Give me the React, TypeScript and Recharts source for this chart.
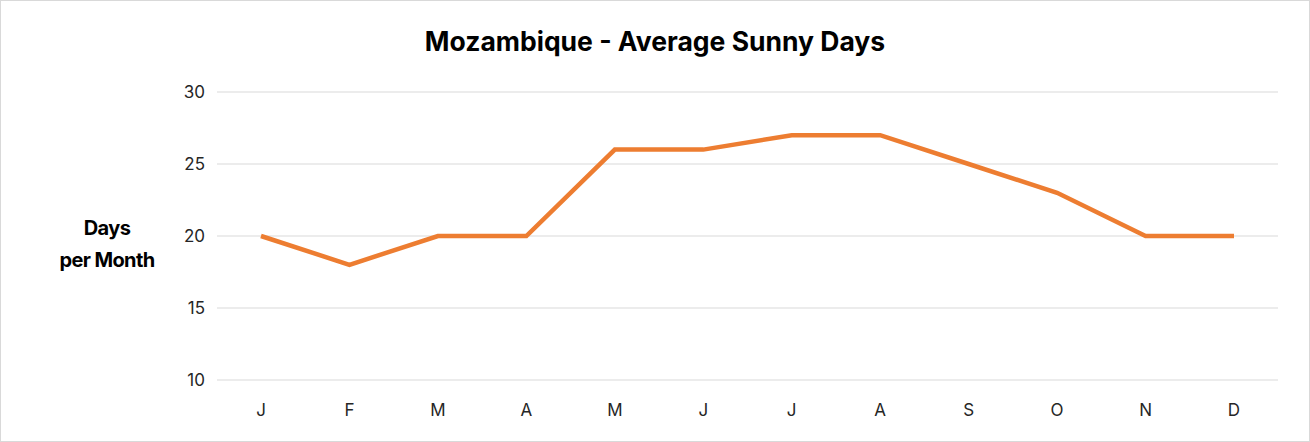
import { LineChart, Line, XAxis, YAxis, CartesianGrid } from 'recharts';

const months = ['J', 'F', 'M', 'A', 'M', 'J', 'J', 'A', 'S', 'O', 'N', 'D'];
const sunnyDays = [20, 18, 20, 20, 26, 26, 27, 27, 25, 23, 20, 20];
const yTicks = [10, 15, 20, 25, 30];

const data = months.map((m, i) => ({ id: i, month: m, days: sunnyDays[i] }));

const FONT = 'Inter, "Open Sans", sans-serif';

export default function App() {
  return (
    <div
      style={{
        position: 'fixed',
        left: 0,
        top: 0,
        width: 1310,
        height: 442,
        boxSizing: 'border-box',
        border: '1.5px solid #d9d9d9',
        background: '#fff',
        fontFamily: FONT,
      }}
    >
      <div
        style={{
          position: 'absolute',
          left: 0,
          right: 0,
          top: 24,
          textAlign: 'center',
          fontSize: 26.5,
          fontWeight: 700,
          color: '#000',
        }}
      >
        Mozambique - Average Sunny Days
      </div>
      <div
        style={{
          position: 'absolute',
          left: 46,
          width: 120,
          top: 211,
          textAlign: 'center',
          fontSize: 20,
          fontWeight: 700,
          letterSpacing: -0.6,
          lineHeight: '32px',
          color: '#000',
        }}
      >
        Days
        <br />
        per Month
      </div>
      <div style={{ position: 'absolute', left: -1.5, top: -1.5 }}>
        <LineChart width={1310} height={442} data={data} margin={{ top: 92, right: 32, bottom: 22, left: 0 }}>
          <CartesianGrid vertical={false} stroke="#d9d9d9" strokeWidth={1.2} />
          <XAxis
            dataKey="id"
            tickFormatter={(i) => months[i]}
            axisLine={false}
            tickLine={false}
            height={40}
            tickMargin={18}
            padding={{ left: 44, right: 44 }}
            tick={{ fill: '#262626', fontSize: 17, fontFamily: FONT }}
            interval={0}
          />
          <YAxis
            domain={[10, 30]}
            ticks={yTicks}
            axisLine={false}
            tickLine={false}
            width={217}
            tickMargin={6}
            tick={{ fill: '#262626', fontSize: 17, fontFamily: FONT }}
          />
          <Line
            type="linear"
            dataKey="days"
            stroke="#ED7D31"
            strokeWidth={4.5}
            dot={false}
            activeDot={false}
            isAnimationActive={false}
          />
        </LineChart>
      </div>
    </div>
  );
}
